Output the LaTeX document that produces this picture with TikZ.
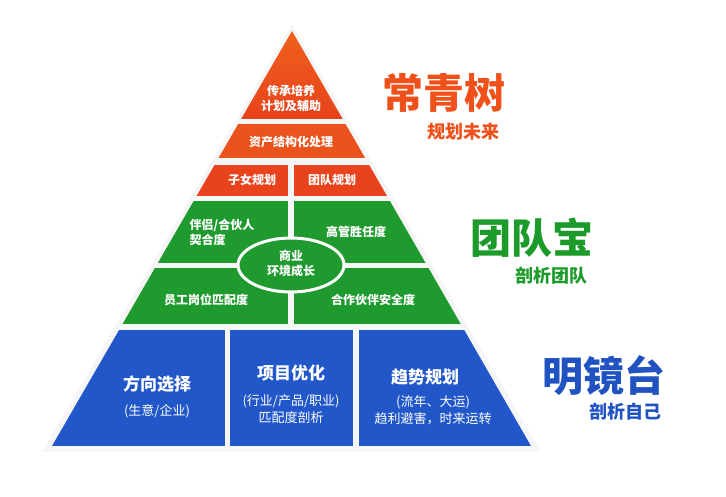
\documentclass[tikz,border=0pt]{standalone}
\usepackage{fontspec}
\usetikzlibrary{shapes.geometric}
\setmainfont{Noto Sans CJK SC}
\definecolor{orA}{HTML}{F26A1B}
\definecolor{orB}{HTML}{E8431C}
\definecolor{gr}{HTML}{1E9A2E}
\definecolor{bl}{HTML}{2157C9}
\definecolor{tOr}{HTML}{F0501A}
\definecolor{tGr}{HTML}{1C9A2A}
\definecolor{tBl}{HTML}{2052C2}
\tikzset{
  lbl/.style={text=white,font=\bfseries\fontsize{12}{15}\selectfont,align=center,inner sep=0pt},
  head/.style={text=white,font=\bfseries\fontsize{17}{20}\selectfont,inner sep=0pt},
  sub/.style={text=white,font=\fontsize{13}{17}\selectfont,align=center,inner sep=0pt},
  big/.style={font=\bfseries\fontsize{41}{43}\selectfont,inner sep=0pt},
  small/.style={font=\bfseries\fontsize{18}{20}\selectfont,inner sep=0pt}
}
\begin{document}
\begin{tikzpicture}[x=1pt,y=-1pt]
\useasboundingbox (0,0) rectangle (726,496);
\fill[white!93!black,opacity=0.5] (292,24) -- (541,452) -- (42,452) -- cycle;
\begin{scope}
\clip (292,31) -- (531,446) -- (52,446) -- cycle;
\shade[top color=orA,bottom color=orB] (0,0) rectangle (726,118);
\fill[orB!60!orA] (0,124) rectangle (726,158);
\fill[orB] (0,165) rectangle (288,196);
\fill[orB] (294,165) rectangle (726,196);
\fill[gr] (0,201) rectangle (288,263);
\fill[gr] (294,201) rectangle (726,263);
\fill[gr] (0,268) rectangle (288,324);
\fill[gr] (294,268) rectangle (726,324);
\fill[bl] (0,330) rectangle (225,446);
\fill[bl] (230,330) rectangle (353,446);
\fill[bl] (359,330) rectangle (726,446);
\end{scope}
\node[ellipse,draw=white,line width=3pt,fill=gr,minimum width=106,minimum height=54,inner sep=0pt] (el) at (291,265) {};
\node[lbl] (a1) at (291,98) {传承培养\\计划及辅助};
\node[lbl] (a2) at (291,142) {资产结构化处理};
\node[lbl] (a3) at (252,180) {子女规划};
\node[lbl] (a4) at (332,180) {团队规划};
\node[lbl,align=left] (g1) at (222,232) {伴侣/合伙人\\契合度};
\node[lbl] (g2) at (356,232) {高管胜任度};
\node[lbl] (g3) at (291,263) {商业\\环境成长};
\node[lbl] (g4) at (206,300) {员工岗位匹配度};
\node[lbl] (g5) at (373,300) {合作伙伴安全度};
\node[head] (b1) at (157,384) {方向选择};
\node[sub] (b1s) at (157,411) {(生意/企业)};
\node[head] (b2) at (291,373) {项目优化};
\node[sub] (b2s) at (291,409) {(行业/产品/职业)\\匹配度剖析};
\node[head] (b3) at (425,377) {趋势规划};
\node[sub] (b3s) at (433,410) {(流年、大运)\\趋利避害，时来运转};
\node[big,text=tOr] (t1) at (444,93) {常青树};
\node[small,text=tOr] (s1) at (463,132) {规划未来};
\node[big,text=tGr] (t2) at (532,238) {团队宝};
\node[small,text=tGr] (s2) at (551,276) {剖析团队};
\node[big,text=tBl] (t3) at (604,376) {明镜台};
\node[small,text=tBl] (s3) at (625,412) {剖析自己};
\end{tikzpicture}
\end{document}
